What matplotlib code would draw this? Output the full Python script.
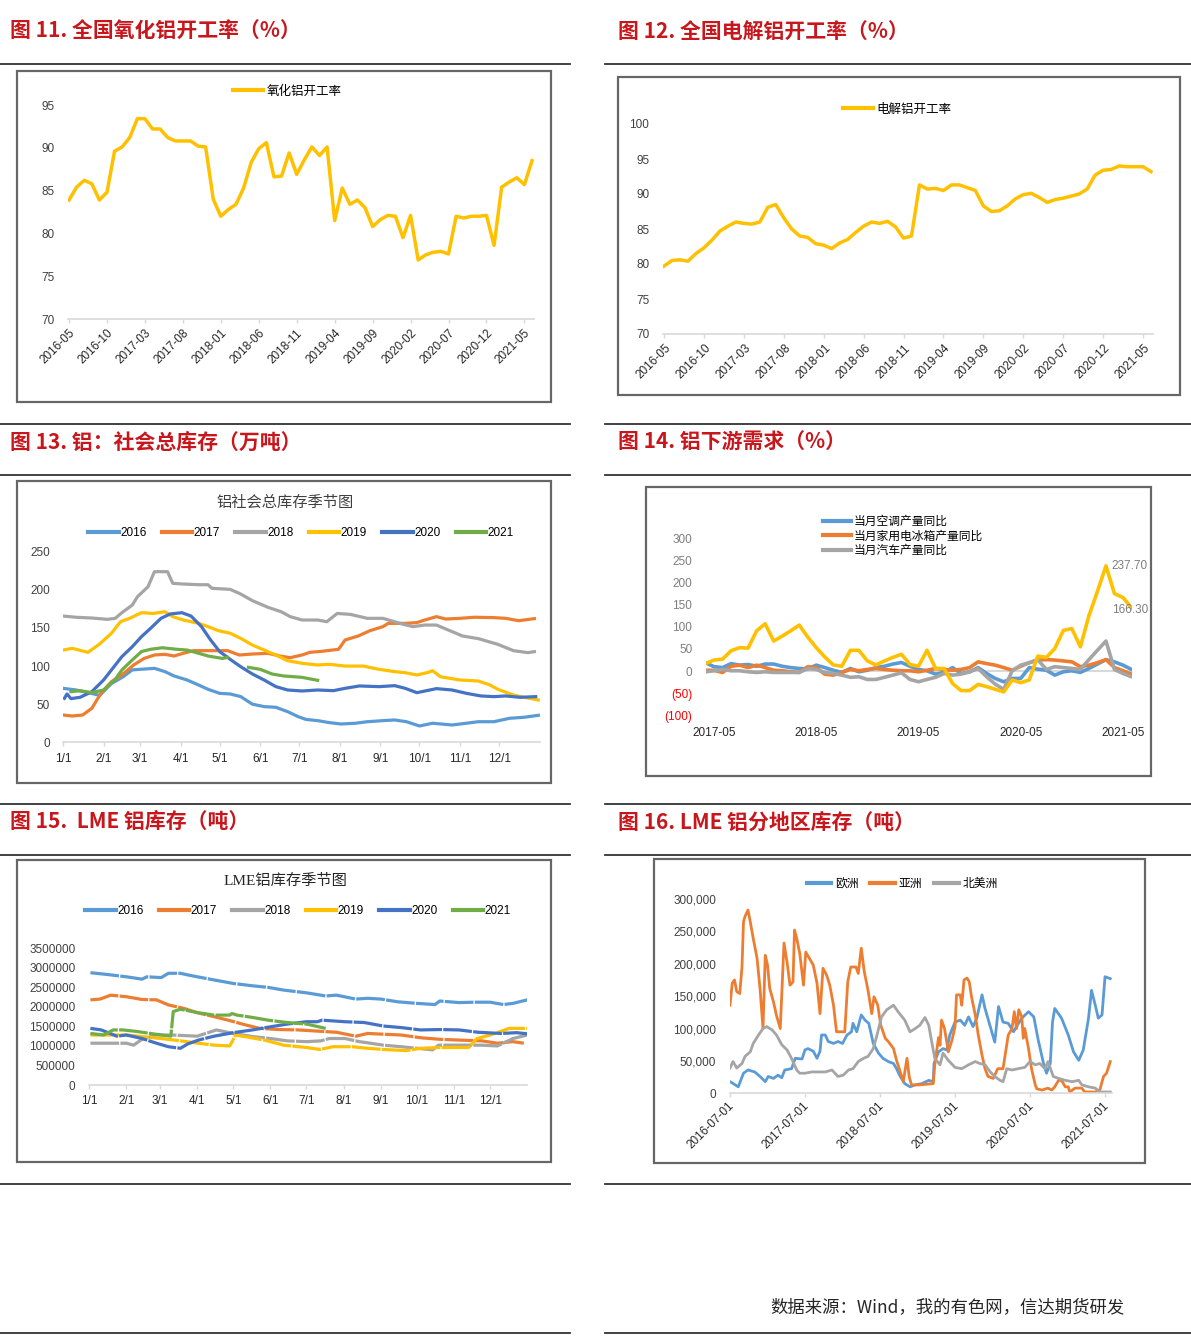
import numpy as np
import pandas as pd
import matplotlib
matplotlib.use('Agg')
import matplotlib.pyplot as plt
from matplotlib.lines import Line2D
from matplotlib.patches import Rectangle
import matplotlib.transforms as mtransforms

plt.rcParams['font.family'] = ['Liberation Sans', 'Noto Sans CJK SC']
CJK = ['Noto Sans CJK SC', 'DejaVu Sans']
RED = '#C8161D'
YEL = '#FFC000'
C_BLUE, C_ORANGE, C_GRAY, C_YEL, C_DBLUE, C_GREEN = '#5B9BD5', '#ED7D31', '#A5A5A5', '#FFC000', '#4472C4', '#70AD47'
YEAR_COLORS = [C_BLUE, C_ORANGE, C_GRAY, C_YEL, C_DBLUE, C_GREEN]
YEARS = ['2016', '2017', '2018', '2019', '2020', '2021']

# ---------------- data ----------------
# 图11 氧化铝开工率, 2016-05 .. 2021-06 (月度)
alumina_rate = [83.9, 85.4, 86.2, 85.8, 83.9, 84.8, 89.6, 90.1, 91.2, 93.4,
                93.4, 92.2, 92.2, 91.2, 90.8, 90.8, 90.8, 90.2, 90.1, 84.0,
                82.0, 82.8, 83.4, 85.3, 88.3, 89.9, 90.6, 86.6, 86.7, 89.4,
                86.9, 88.6, 90.1, 89.1, 90.1, 81.5, 85.3, 83.4, 83.9, 83.0,
                80.8, 81.6, 82.1, 82.0, 79.5, 82.1, 76.9, 77.5, 77.8, 77.9,
                77.6, 82.0, 81.8, 82.0, 82.0, 82.1, 78.6, 85.4, 86.0, 86.5,
                85.7, 88.5]
# 图12 电解铝开工率, 2016-05 .. 2021-06
smelter_rate = [79.7, 80.5, 80.6, 80.4, 81.5, 82.3, 83.4, 84.7, 85.4, 86.0,
                85.8, 85.7, 86.0, 88.1, 88.5, 86.6, 85.0, 84.0, 83.8, 82.9,
                82.7, 82.2, 83.0, 83.5, 84.5, 85.4, 86.0, 85.8, 86.1, 85.3,
                83.7, 84.0, 91.3, 90.7, 90.8, 90.5, 91.3, 91.3, 90.9, 90.5,
                88.3, 87.5, 87.6, 88.3, 89.3, 89.9, 90.1, 89.5, 88.8, 89.2,
                89.4, 89.7, 90.0, 90.7, 92.7, 93.4, 93.5, 94.0, 93.9, 93.9,
                93.9, 93.2]
rate_months = pd.period_range('2016-05', periods=62, freq='M').strftime('%Y-%m').tolist()

# 图13 铝社会总库存 (万吨), 日序 / 数值
inv_days = {
    '2016': [0, 10, 22, 28, 37, 46, 53, 70, 78, 85, 95, 104, 111, 120, 128, 136, 145, 154, 163, 172,
             180, 186, 195, 204, 213, 224, 233, 245, 254, 263, 273, 283, 298, 309, 318, 330, 342, 353, 364],
    '2017': [0, 7, 15, 22, 29, 37, 45, 54, 62, 70, 78, 85, 92, 100, 107, 116, 126, 135, 145, 157,
             166, 174, 183, 189, 198, 211, 216, 226, 235, 245, 249, 262, 271, 277, 286, 293, 304, 315, 330, 339,
             349, 361],
    '2018': [0, 10, 22, 34, 40, 45, 53, 57, 65, 70, 80, 84, 92, 104, 111, 114, 128, 136, 145, 157,
             167, 174, 183, 195, 202, 210, 220, 233, 245, 260, 268, 277, 286, 295, 306, 318, 333, 345, 356, 361],
    '2019': [0, 7, 19, 28, 37, 44, 51, 60, 69, 78, 84, 92, 104, 111, 119, 128, 136, 145, 154, 163,
             172, 183, 195, 204, 216, 230, 242, 254, 262, 271, 280, 283, 289, 304, 318, 327, 333, 345, 353, 364],
    '2020': [1, 3, 6, 13, 22, 31, 37, 45, 53, 60, 67, 75, 82, 91, 98, 106, 113, 120, 128, 136,
             145, 154, 163, 172, 183, 195, 207, 216, 227, 242, 254, 262, 271, 286, 298, 309, 320, 330, 339, 350,
             362],
    '2021': [6, 13, 22, 31, 40, 45, 53, 60, 67, 76, 87, 95, 104, 111, 122, 126, 134, 142, 151, 160,
             169, 183, 195],
}
inv_vals = {
    '2016': [70.8, 68.6, 64, 61.6, 77, 86, 95, 97, 92.7, 87, 81.7, 75, 69.5, 64.2, 63.4, 60, 50, 46.8, 45.9, 40.2,
             33.7, 30, 28.4, 25.8, 24, 25, 27, 28.4, 29.3, 27, 21.4, 25, 22.7, 25, 27, 27, 31.5, 32.8, 35.4],
    '2017': [35.8, 34.5, 35.8, 44.6, 64.2, 79.5, 88.3, 101.4, 110, 114.5, 115.4, 113.2, 116.7, 120.2, 120.2, 120.2,
             120.2, 114.5, 115.8, 116.7, 113.2, 111, 114.5, 118, 119.3, 122, 134.2, 139.4, 146.4, 151.7,
             156, 156, 157, 160.4, 164.8, 161.7, 162.6, 164, 163.5, 162.6, 159.5, 162.2],
    '2018': [165.6, 164, 163, 161.3, 162.6, 170, 180, 191, 204, 223.8, 223.8, 208.5, 207.6, 206.7, 206.7, 202,
             200.6, 194.5, 185.8, 177, 171.3, 164.8, 160.4, 160.4, 158.2, 169, 167.8, 162.6, 162.6, 155,
             151.7, 153.8, 153.8, 147.3, 139.4, 136, 128.5, 120.2, 117.6, 118.9],
    '2019': [121, 123.3, 118, 129, 143, 158.2, 162.6, 170, 169, 171.3, 164.8, 160.4, 156, 151.7, 146.4, 143,
             136.4, 127.6, 121, 114.5, 107, 103.6, 101.4, 102.3, 100, 100, 95.7, 92.7, 91.3, 88.3,
             91.8, 94, 86, 81.7, 80.4, 75.2, 69.5, 62, 59, 55.5],
    '2020': [57.7, 63.4, 57.3, 59, 66.4, 81.7, 94.8, 112.3, 125.4, 138.5, 149.5, 162.6, 168.3, 170, 165.6, 151.7,
             134.2, 118.9, 108.8, 99.2, 89.6, 81.7, 73, 68.6, 67.3, 68.6, 67.7, 70.8, 73.9, 73,
             74.3, 70.8, 65.1, 70.4, 68.6, 64.2, 60.8, 59.9, 60.8, 59, 59.9],
    '2021': [66.4, 67.7, 65.1, 68.6, 82.6, 94.8, 108, 119, 122, 124, 122, 121, 116.7, 113.2, 110, 111.4,
             np.nan, 98.3, 95.7, 89.6, 87, 85.2, 81.3],
}

# 图14 铝下游需求 (%), 2017-04 .. 2021-06
demand_ac = [19, 10, 8, 17, 13.5, 15, 11, 16, 16, 11, 8, 6, 5, 13.5, 8, 2, -3, 6, -1.5, 2,
             8, 11, 16, 19.5, 11, 3.8, 0.8, -6.8, -3, 8, -5.3, -1.5, 8, -5.3, -16.5, -24, -16.5, -16.5, 8, 4.5,
             2, -9, -1.5, 0.8, -3, 6, 16, 26, 21, 13.5, 3.8]
demand_fridge = [2, 2, -3, 11, 13.5, 8, 13.5, 8, 2, 0.8, -1.5, -3, 10, 8, -6.8, -9, -3, 3.8, 0.8, 3.8,
                 6, 3.8, 2, 0.8, 0.8, -1.5, 2, 6, 3.8, 2, 3.8, 8, 21, 17, 13.5, 8, 2, 11, 19, 25,
                 26, 25, 23, 21, 10, 13.5, 19, 26, 8, 0.8, -6.8]
demand_auto = [-1.5, 0.8, 3.8, 0.8, 0.8, -1.5, -3, -1.5, -3, -3, -3, -3, 6, 3.8, -3, -5.3, -9, -14, -12.8, -18.8,
               -18.8, -14, -9, -3.8, -18.8, -24, -18.8, -14, -5.3, -9, -6.8, -1.5, 6, -12.8, -29.3, -41.3, 0.8,
               13.5, 19, 26, 3.8, 10, 8, 6, 3.8, 26, 47, 68, 3.8, -5.3, -12.8]
demand_other = [17, 25, 27, 46, 53, 52, 91, 107, 68, 79, 91, 104, 77, 53, 32, 14, 11, 47, 47, 23,
                14, 23, 31, 38, 15, 11, 47, 6, 6, -28, -44, -44, -30, -35, -41, -47, -20, -26, -20, 34,
                31, 51, 92, 96, 55, 125, 180, 237.7, 175, 166.3, 143]
demand_months = pd.period_range('2017-04', periods=51, freq='M').strftime('%Y-%m').tolist()
demand_labeled = ['2017-05', '2018-05', '2019-05', '2020-05', '2021-05']

# 图15 LME铝库存 (千吨), 日序 / 数值
lme_days = {
    '2016': [1, 15, 31, 44, 48, 60, 66, 76, 85, 104, 120, 136, 149, 162, 181, 197, 206, 222, 232, 243,
             257, 273, 288, 292, 308, 321, 334, 345, 353, 365],
    '2017': [1, 9, 18, 31, 44, 56, 66, 79, 90, 104, 117, 130, 142, 158, 174, 190, 206, 222, 232, 245,
             260, 276, 292, 308, 327, 340, 353, 362],
    '2018': [1, 15, 31, 37, 44, 56, 69, 90, 106, 120, 136, 151, 165, 181, 193, 200, 213, 225, 232, 245,
             260, 273, 286, 291, 308, 327, 340, 353, 365],
    '2019': [1, 15, 31, 44, 60, 76, 91, 104, 117, 122, 133, 146, 162, 181, 192, 203, 219, 232, 245, 264,
             276, 292, 316, 323, 334, 350, 365],
    '2020': [1, 10, 23, 31, 44, 56, 66, 76, 82, 91, 104, 120, 136, 149, 165, 181, 190, 194, 213, 229,
             245, 260, 276, 292, 308, 324, 343, 356, 365],
    '2021': [1, 12, 20, 28, 40, 53, 68, 70, 76, 91, 104, 117, 119, 123, 136, 149, 165, 181, 197],
}
lme_kt = {
    '2016': [2875, 2830, 2770, 2710, 2770, 2750, 2860, 2860, 2800, 2690, 2600, 2540, 2500, 2430, 2360, 2280,
             2300, 2200, 2220, 2200, 2130, 2090, 2060, 2150, 2110, 2120, 2120, 2060, 2090, 2180],
    '2017': [2180, 2200, 2300, 2260, 2190, 2180, 2050, 1960, 1850, 1750, 1650, 1540, 1450, 1420, 1410, 1380,
             1350, 1250, 1320, 1300, 1280, 1210, 1170, 1150, 1130, 1070, 1110, 1070],
    '2018': [1070, 1070, 1070, 1020, 1170, 1280, 1280, 1250, 1410, 1320, 1240, 1190, 1130, 1110, 1130, 1190,
             1190, 1110, 1080, 1020, 980, 940, 900, 1020, 1020, 1020, 1000, 1190, 1280],
    '2019': [1280, 1280, 1280, 1240, 1190, 1130, 1070, 1020, 1000, 1280, 1220, 1150, 1020, 960, 910, 980,
             980, 940, 910, 880, 940, 960, 960, 1190, 1280, 1450, 1450],
    '2020': [1450, 1410, 1250, 1280, 1190, 1070, 980, 940, 1050, 1150, 1250, 1340, 1410, 1480, 1560, 1620,
             1620, 1660, 1620, 1600, 1510, 1470, 1410, 1420, 1410, 1350, 1320, 1340, 1310],
    '2021': [1320, 1280, 1410, 1410, 1370, 1310, 1250, 1880, 1940, 1850, 1790, 1790, 1830, 1790, 1730, 1660,
             1600, 1560, 1450],
}

# 图16 LME铝分地区库存 (千吨), 年份小数 / 数值
eu_t = [2016.50, 2016.57, 2016.61, 2016.68, 2016.74, 2016.83, 2016.90, 2016.97, 2017.01, 2017.08,
        2017.14, 2017.19, 2017.23, 2017.32, 2017.37, 2017.46, 2017.50, 2017.54, 2017.61, 2017.66,
        2017.70, 2017.72, 2017.77, 2017.81, 2017.88, 2017.94, 2018.00, 2018.06, 2018.12, 2018.14,
        2018.19, 2018.25, 2018.30, 2018.35, 2018.41, 2018.48, 2018.54, 2018.61, 2018.68, 2018.72,
        2018.77, 2018.83, 2018.90, 2018.97, 2019.06, 2019.15, 2019.21, 2019.22, 2019.28, 2019.34,
        2019.39, 2019.43, 2019.50, 2019.57, 2019.63, 2019.68, 2019.74, 2019.79, 2019.86, 2019.90,
        2019.97, 2020.03, 2020.08, 2020.14, 2020.21, 2020.28, 2020.32, 2020.39, 2020.48, 2020.55,
        2020.61, 2020.68, 2020.72, 2020.77, 2020.80, 2020.83, 2020.92, 2021.01, 2021.08, 2021.15,
        2021.21, 2021.28, 2021.32, 2021.37, 2021.41, 2021.46, 2021.50, 2021.57]
eu_kt = [18, 13, 10, 31, 36, 33, 26, 18, 26, 23, 28, 24, 36, 38, 54, 53, 67, 69, 65, 54,
         65, 90, 90, 80, 77, 80, 77, 90, 95, 108, 95, 121, 113, 108, 77, 62, 54, 49, 46, 38,
         26, 15, 10, 13, 15, 20, 18, 46, 64, 69, 67, 90, 110, 113, 105, 118, 103, 116, 152, 131,
         103, 79, 134, 110, 108, 95, 103, 116, 126, 118, 82, 46, 31, 46, 110, 131, 116, 90, 64, 51,
         67, 116, 159, 136, 116, 121, 180, 177]
asia_t = [2016.50, 2016.53, 2016.56, 2016.59, 2016.63, 2016.66, 2016.68, 2016.70, 2016.74, 2016.77,
          2016.81, 2016.86, 2016.90, 2016.94, 2016.97, 2017.00, 2017.03, 2017.08, 2017.12, 2017.17,
          2017.19, 2017.22, 2017.26, 2017.30, 2017.34, 2017.36, 2017.39, 2017.43, 2017.48, 2017.51,
          2017.57, 2017.61, 2017.66, 2017.70, 2017.74, 2017.79, 2017.83, 2017.88, 2017.92, 2018.03,
          2018.07, 2018.11, 2018.18, 2018.21, 2018.25, 2018.29, 2018.34, 2018.39, 2018.42, 2018.47,
          2018.51, 2018.57, 2018.61, 2018.68, 2018.72, 2018.77, 2018.81, 2018.86, 2018.89, 2018.92,
          2019.03, 2019.21, 2019.23, 2019.28, 2019.30, 2019.32, 2019.36, 2019.39, 2019.41, 2019.46,
          2019.50, 2019.52, 2019.57, 2019.59, 2019.62, 2019.66, 2019.69, 2019.72, 2019.77, 2019.81,
          2019.86, 2019.90, 2019.94, 2020.01, 2020.07, 2020.14, 2020.21, 2020.26, 2020.29, 2020.32,
          2020.35, 2020.39, 2020.41, 2020.43, 2020.48, 2020.52, 2020.57, 2020.59, 2020.66, 2020.74,
          2020.79, 2020.83, 2020.88, 2020.92, 2020.97, 2021.01, 2021.03, 2021.10, 2021.19, 2021.23,
          2021.37, 2021.43, 2021.48, 2021.52, 2021.57]
asia_kt = [136, 170, 175, 157, 154, 195, 265, 273, 283, 265, 239, 209, 162, 100, 213, 198, 162, 141, 120, 100,
           152, 232, 203, 167, 172, 252, 239, 216, 167, 218, 206, 198, 170, 123, 193, 182, 167, 136, 95, 95,
           172, 195, 195, 185, 224, 188, 159, 123, 149, 136, 105, 85, 80, 69, 51, 33, 18, 54, 25, 13,
           13, 15, 44, 86, 74, 113, 100, 79, 64, 82, 103, 152, 152, 136, 175, 178, 172, 149, 121, 90,
           59, 38, 26, 23, 38, 38, 90, 100, 126, 100, 129, 118, 85, 100, 69, 38, 13, 7, 5, 8,
           5, 10, 20, 20, 10, 10, 2, 8, 8, 2, 2, 5, 26, 31, 49]
na_t = [2016.50, 2016.54, 2016.59, 2016.66, 2016.70, 2016.77, 2016.81, 2016.88, 2016.94, 2016.99,
        2017.06, 2017.12, 2017.19, 2017.26, 2017.32, 2017.39, 2017.43, 2017.50, 2017.59, 2017.68,
        2017.77, 2017.86, 2017.94, 2018.01, 2018.08, 2018.14, 2018.21, 2018.28, 2018.34, 2018.41,
        2018.46, 2018.52, 2018.59, 2018.68, 2018.74, 2018.83, 2018.90, 2018.97, 2019.03, 2019.10,
        2019.15, 2019.19, 2019.23, 2019.30, 2019.34, 2019.41, 2019.50, 2019.59, 2019.68, 2019.77,
        2019.83, 2019.90, 2019.97, 2020.03, 2020.10, 2020.14, 2020.19, 2020.26, 2020.34, 2020.43,
        2020.50, 2020.57, 2020.63, 2020.70, 2020.74, 2020.81, 2020.88, 2020.97, 2021.06, 2021.15,
        2021.19, 2021.28, 2021.37, 2021.43, 2021.57]
na_kt = [39, 49, 39, 46, 57, 64, 77, 90, 100, 103, 98, 90, 75, 67, 54, 36, 31, 31, 33, 33,
         33, 36, 26, 28, 36, 38, 49, 54, 57, 69, 90, 118, 129, 136, 126, 113, 95, 100, 105, 117,
         105, 79, 54, 44, 62, 51, 40, 38, 44, 49, 46, 44, 33, 26, 20, 18, 38, 36, 38, 40,
         49, 44, 46, 38, 49, 26, 23, 20, 18, 20, 13, 10, 8, 2, 2]
region_ticks = ['2016-07-01', '2017-07-01', '2018-07-01', '2019-07-01', '2020-07-01', '2021-07-01']

MONTH_START = [0, 31, 59, 90, 120, 151, 181, 212, 243, 273, 304, 334]
MONTH_LABELS = [f'{m}/1' for m in range(1, 13)]

# ---------------- figure ----------------
W, H = 1191, 1337
fig = plt.figure(figsize=(W / 100, H / 100), dpi=100)


def fx(x):
    return x / W


def fy(y):
    return 1 - y / H


def px_axes(left, top, right, bottom):
    ax = fig.add_axes([left / W, 1 - bottom / H, (right - left) / W, (bottom - top) / H])
    ax.patch.set_alpha(0)
    for s in ['top', 'right', 'left']:
        ax.spines[s].set_visible(False)
    ax.spines['bottom'].set_color('#D9D9D9')
    ax.spines['bottom'].set_linewidth(1.2)
    ax.tick_params(axis='y', length=0, labelsize=8.5, labelcolor='#404040')
    ax.tick_params(axis='x', length=3, color='#D9D9D9', width=1, labelsize=8.5, labelcolor='#262626')
    return ax


def hline(y, x0, x1):
    fig.add_artist(Line2D([fx(x0), fx(x1)], [fy(y), fy(y)], transform=fig.transFigure,
                          color='#333333', lw=1.3))


def frame(l, t, r, b):
    fig.add_artist(Rectangle((fx(l), fy(b)), (r - l) / W, (b - t) / H, transform=fig.transFigure,
                             fill=False, ec='#666666', lw=1.6, zorder=0))


def title(x, y, s):
    fig.text(fx(x), fy(y), s, fontsize=15, fontweight='bold', color=RED, family=CJK,
             ha='left', va='center')


def shift_labels(ax, dx_px, dy_px=0):
    off = mtransforms.ScaledTranslation(dx_px / 100, dy_px / 100, fig.dpi_scale_trans)
    for lab in ax.get_xticklabels():
        lab.set_transform(lab.get_transform() + off)


def legend(handles, labels, cx, cy, ncol, size, family, hl, tp, cs):
    fig.legend(handles, labels, loc='center', bbox_to_anchor=(fx(cx), fy(cy)), ncol=ncol,
               frameon=False, borderpad=0, handlelength=hl, handletextpad=tp, columnspacing=cs,
               prop={'family': family, 'size': size})


# rules
for y in [64, 424, 475, 804, 855, 1184, 1333]:
    hline(y, 0, 570)
    hline(y, 605, 1191)

# frames
frame(17, 71, 551, 402)
frame(618, 77, 1180, 395)
frame(17, 481, 551, 783)
frame(646, 487, 1151, 776)
frame(17, 860, 551, 1162)
frame(654, 859, 1145, 1163)

title(10, 30, '图 11. 全国氧化铝开工率（%）')
title(618, 31, '图 12. 全国电解铝开工率（%）')
title(10, 442, '图 13. 铝：社会总库存（万吨）')
title(618, 442, '图 14. 铝下游需求（%）')
title(10, 821, '图 15.  LME 铝库存（吨）')
title(618, 822, '图 16. LME 铝分地区库存（吨）')

# ---- 图11 ----
ax1 = px_axes(67.5, 105, 534.3, 319)
x1 = np.arange(len(alumina_rate))
ax1.plot(x1, alumina_rate, color=YEL, lw=2.5, solid_joinstyle='round')
ax1.set_ylim(70, 95)
ax1.set_yticks(range(70, 96, 5))
ax1.set_xlim(-0.2, 61.3)
ax1.set_xticks(x1[::5])
ax1.set_xticklabels(rate_months[::5], rotation=45, ha='right', va='center', rotation_mode='anchor')
ax1.tick_params(axis='x', pad=6)
ax1.tick_params(axis='y', pad=9)
shift_labels(ax1, 4)
legend([Line2D([], [], color=YEL, lw=3)], ['氧化铝开工率'], 287, 91, 1, 9, CJK, 2.4, 0.3, 1)

# ---- 图12 ----
ax2 = px_axes(663.2, 124, 1153, 334)
x2 = np.arange(len(smelter_rate))
ax2.plot(x2, smelter_rate, color=YEL, lw=2.5, solid_joinstyle='round')
ax2.set_ylim(70, 100)
ax2.set_yticks(range(70, 101, 5))
ax2.set_xlim(-0.1, 61.25)
ax2.set_xticks(x2[::5])
ax2.set_xticklabels(rate_months[::5], rotation=45, ha='right', va='center', rotation_mode='anchor')
ax2.tick_params(axis='x', pad=6)
ax2.tick_params(axis='y', pad=10)
shift_labels(ax2, 5)
legend([Line2D([], [], color=YEL, lw=3)], ['电解铝开工率'], 897, 109, 1, 9, CJK, 2.4, 0.3, 1)

# ---- 图13 ----
ax3 = px_axes(63.1, 551.7, 539.6, 742.3)
for yr, c in zip(YEARS, YEAR_COLORS):
    ax3.plot(inv_days[yr], inv_vals[yr], color=c, lw=2.3, solid_joinstyle='round')
ax3.set_xlim(0, 365)
ax3.set_ylim(0, 250)
ax3.set_yticks(range(0, 251, 50))
ax3.set_xticks(MONTH_START)
ax3.set_xticklabels(MONTH_LABELS)
ax3.tick_params(axis='x', pad=5)
ax3.tick_params(axis='y', pad=9.5)
fig.text(fx(285), fy(502), '铝社会总库存季节图', fontsize=11, family=CJK, color='#404040',
         ha='center', va='center')
legend([Line2D([], [], color=c, lw=3) for c in YEAR_COLORS], YEARS, 301, 533, 6, 8.5,
       ['Liberation Sans'], 2.6, 0.1, 1.3)

# ---- 图14 ----
ax4 = px_axes(705.5, 538.3, 1131.5, 715.4)
ax4.spines['bottom'].set_visible(False)
x4 = np.arange(len(demand_other))
ax4.axhline(0, color='#D9D9D9', lw=1.5, zorder=0)
ax4.plot(x4, demand_ac, color=C_BLUE, lw=2.6)
ax4.plot(x4, demand_fridge, color=C_ORANGE, lw=2.6)
ax4.plot(x4, demand_auto, color=C_GRAY, lw=2.6)
ax4.plot(x4, demand_other, color=C_YEL, lw=2.6)
ax4.set_xlim(0, 50)
ax4.set_ylim(-100, 300)
yt4 = list(range(-100, 301, 50))
ax4.set_yticks(yt4)
ax4.set_yticklabels([f'({-v})' if v < 0 else f'{v}' for v in yt4])
for lab, v in zip(ax4.get_yticklabels(), yt4):
    lab.set_color('#FF0000' if v < 0 else '#7F7F7F')
ax4.set_xticks([demand_months.index(m) for m in demand_labeled])
ax4.set_xticklabels(demand_labeled)
ax4.tick_params(axis='x', length=0, pad=8)
ax4.tick_params(axis='y', pad=9.5)
i_peak = demand_other.index(max(demand_other))
ax4.annotate(f'{demand_other[i_peak]:.2f}', (i_peak, demand_other[i_peak]), xytext=(4, 0),
             textcoords='offset points', ha='left', va='center', fontsize=8.5, color='#7F7F7F')
i_last = demand_months.index('2021-05')
ax4.annotate(f'{demand_other[i_last]:.2f}', (i_last, demand_other[i_last]), xytext=(5, -9),
             textcoords='offset points', ha='center', va='center', fontsize=8.5, color='#7F7F7F')
fig.legend([Line2D([], [], color=c, lw=3) for c in [C_BLUE, C_ORANGE, C_GRAY]],
           ['当月空调产量同比', '当月家用电冰箱产量同比', '当月汽车产量同比'],
           loc='upper left', bbox_to_anchor=(fx(816.7), fy(509)), frameon=False, borderpad=0,
           handlelength=2.4, handletextpad=0.25, labelspacing=0.12,
           prop={'family': CJK, 'size': 8.5})

# ---- 图15 ----
ax5 = px_axes(89.2, 948.3, 527.4, 1085)
for yr, c in zip(YEARS, YEAR_COLORS):
    ax5.plot(lme_days[yr], np.array(lme_kt[yr]) * 1000, color=c, lw=2.3, solid_joinstyle='round',
             dashes=(9, 0.4))
ax5.set_xlim(0, 365)
ax5.set_ylim(0, 3500000)
ax5.set_yticks(range(0, 3500001, 500000))
ax5.set_yticklabels([f'{v}' for v in range(0, 3500001, 500000)])
ax5.set_xticks(MONTH_START)
ax5.set_xticklabels(MONTH_LABELS)
ax5.tick_params(axis='x', pad=4.5)
ax5.tick_params(axis='y', pad=10)
fig.text(fx(285), fy(881), 'LME铝库存季节图', fontsize=11, family=['Liberation Serif', 'Noto Sans CJK SC'],
         color='#262626', ha='center', va='center')
legend([Line2D([], [], color=c, lw=3) for c in YEAR_COLORS], YEARS, 298, 911, 6, 8.5,
       ['Liberation Sans'], 2.6, 0.1, 1.3)

# ---- 图16 ----
ax6 = px_axes(730, 899, 1112, 1093.3)
ax6.plot(eu_t, np.array(eu_kt) * 1000, color=C_BLUE, lw=2, solid_joinstyle='round')
ax6.plot(asia_t, np.array(asia_kt) * 1000, color=C_ORANGE, lw=2, solid_joinstyle='round')
ax6.plot(na_t, np.array(na_kt) * 1000, color=C_GRAY, lw=2, solid_joinstyle='round')
ax6.set_xlim(2016.5, 2021.593)
ax6.set_ylim(0, 300000)
ax6.set_yticks(range(0, 300001, 50000))
ax6.set_yticklabels([f'{v:,}' for v in range(0, 300001, 50000)])
tick_years = [int(s[:4]) + 0.5 for s in region_ticks]
ax6.set_xticks(tick_years)
ax6.set_xticklabels(region_ticks, rotation=45, ha='right', va='center', rotation_mode='anchor')
ax6.tick_params(axis='x', pad=5)
ax6.tick_params(axis='y', pad=10)
shift_labels(ax6, 2)
legend([Line2D([], [], color=c, lw=3) for c in [C_BLUE, C_ORANGE, C_GRAY]], ['欧洲', '亚洲', '北美洲'],
       902, 884, 3, 8.5, CJK, 2.1, 0.3, 1.0)

# footer
fig.text(fx(770), fy(1307), '数据来源：Wind，我的有色网，信达期货研发', fontsize=12.5, family=CJK,
         color='#262626', ha='left', va='center')

fig.savefig('out.png', dpi=100)
